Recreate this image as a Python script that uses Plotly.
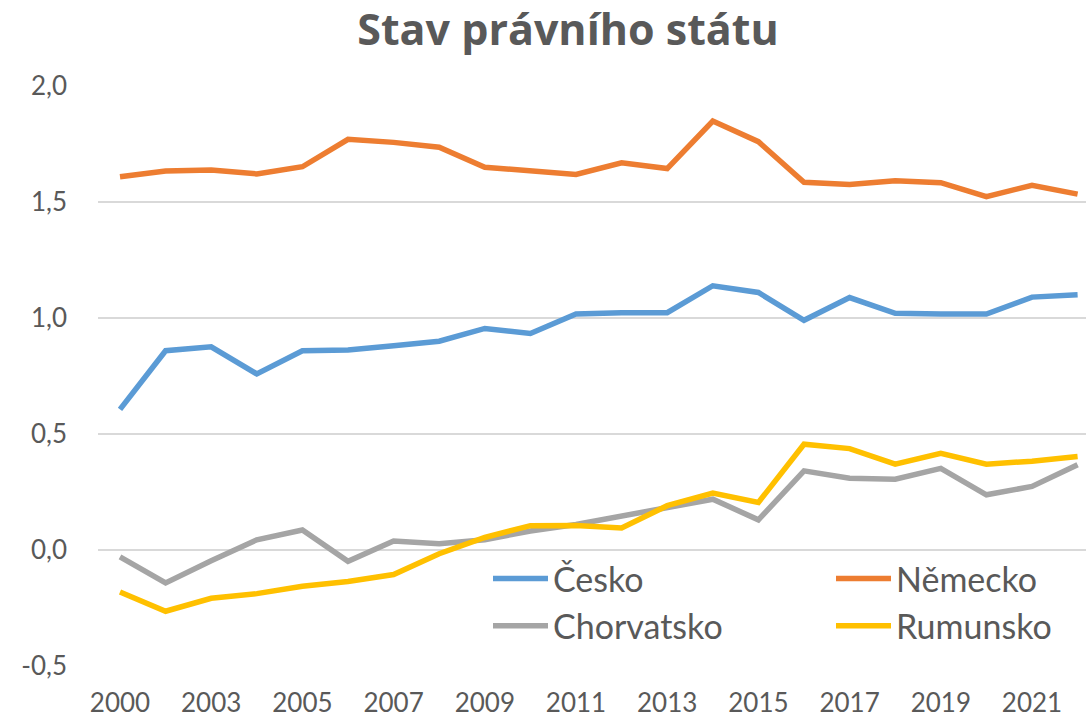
import plotly.graph_objects as go

years = ["2000", "2002", "2003", "2004", "2005", "2006", "2007", "2008", "2009", "2010", "2011",
         "2012", "2013", "2014", "2015", "2016", "2017", "2018", "2019", "2020", "2021", "2022"]

cesko = [0.606, 0.859, 0.876, 0.759, 0.859, 0.862, 0.880, 0.900, 0.955, 0.933, 1.017,
         1.023, 1.023, 1.139, 1.110, 0.990, 1.088, 1.020, 1.017, 1.017, 1.090, 1.100]
nemecko = [1.609, 1.634, 1.638, 1.621, 1.652, 1.770, 1.757, 1.736, 1.650, 1.636, 1.619,
           1.669, 1.644, 1.849, 1.760, 1.585, 1.575, 1.592, 1.583, 1.523, 1.572, 1.534]
chorvatsko = [-0.030, -0.142, -0.046, 0.044, 0.086, -0.049, 0.039, 0.027, 0.044, 0.082, 0.110,
              0.146, 0.180, 0.219, 0.130, 0.341, 0.309, 0.305, 0.352, 0.238, 0.274, 0.367]
rumunsko = [-0.181, -0.264, -0.208, -0.188, -0.156, -0.136, -0.106, -0.016, 0.054, 0.105, 0.106,
            0.095, 0.191, 0.245, 0.205, 0.456, 0.437, 0.370, 0.417, 0.370, 0.383, 0.403]

series = [("Česko", cesko, "#5B9BD5", "legend"), ("Německo", nemecko, "#ED7D31", "legend2"),
          ("Chorvatsko", chorvatsko, "#A5A5A5", "legend"), ("Rumunsko", rumunsko, "#FFC000", "legend2")]

y_ticks = [-0.5, 0.0, 0.5, 1.0, 1.5, 2.0]
y_ticktext = ["-0,5", "0,0", "0,5", "1,0", "1,5", "2,0"]
x_tickvals = years[0::2]

FONT = "Lato"
TXT = "#595959"

fig = go.Figure()
for name, vals, col, lg in series:
    fig.add_trace(go.Scatter(x=list(range(len(years))), y=vals, name=name, mode="lines",
                             line=dict(color=col, width=5.5), legend=lg))

PL, PW, PB, PH = 98, 988, 666, 580
leg_common = dict(orientation="v", xanchor="left", yanchor="top", itemwidth=55,
                  font=dict(family=FONT, size=34, color=TXT), bgcolor="rgba(0,0,0,0)",
                  traceorder="normal", y=(PB - 550) / PH)

fig.update_layout(
    width=1086, height=718,
    margin=dict(l=PL, r=1086 - PL - PW, t=PB - PH, b=718 - PB, autoexpand=False),
    paper_bgcolor="white", plot_bgcolor="white",
    font=dict(family=FONT, color=TXT, size=26),
    title=dict(text="<b>Stav právního státu</b>", x=568/1086, xref="container", xanchor="center",
               y=1 - 15/718, yref="container", yanchor="top",
               font=dict(family="Open Sans", size=43, color=TXT)),
    showlegend=True,
    legend=dict(x=(488 - PL) / PW, **leg_common),
    legend2=dict(x=(831 - PL) / PW, **leg_common),
    xaxis=dict(range=[-22/45.6, (1086-120)/45.6],
               tickvals=[years.index(v) for v in x_tickvals], ticktext=x_tickvals,
               showgrid=False, zeroline=False, showline=False, ticks="",
               ticklabelstandoff=19, tickfont=dict(size=26, color=TXT)),
    yaxis=dict(range=[-0.5, 2.0], tickvals=y_ticks, ticktext=y_ticktext,
               showgrid=True, gridcolor="#D9D9D9", gridwidth=1.5, zeroline=False,
               showline=False, ticks="", ticklabelstandoff=30,
               tickfont=dict(size=26, color=TXT)),
)

fig.write_html("out.html", config={"displayModeBar": False},
               post_script="document.body.style.margin='0';document.body.style.overflow='hidden';")
